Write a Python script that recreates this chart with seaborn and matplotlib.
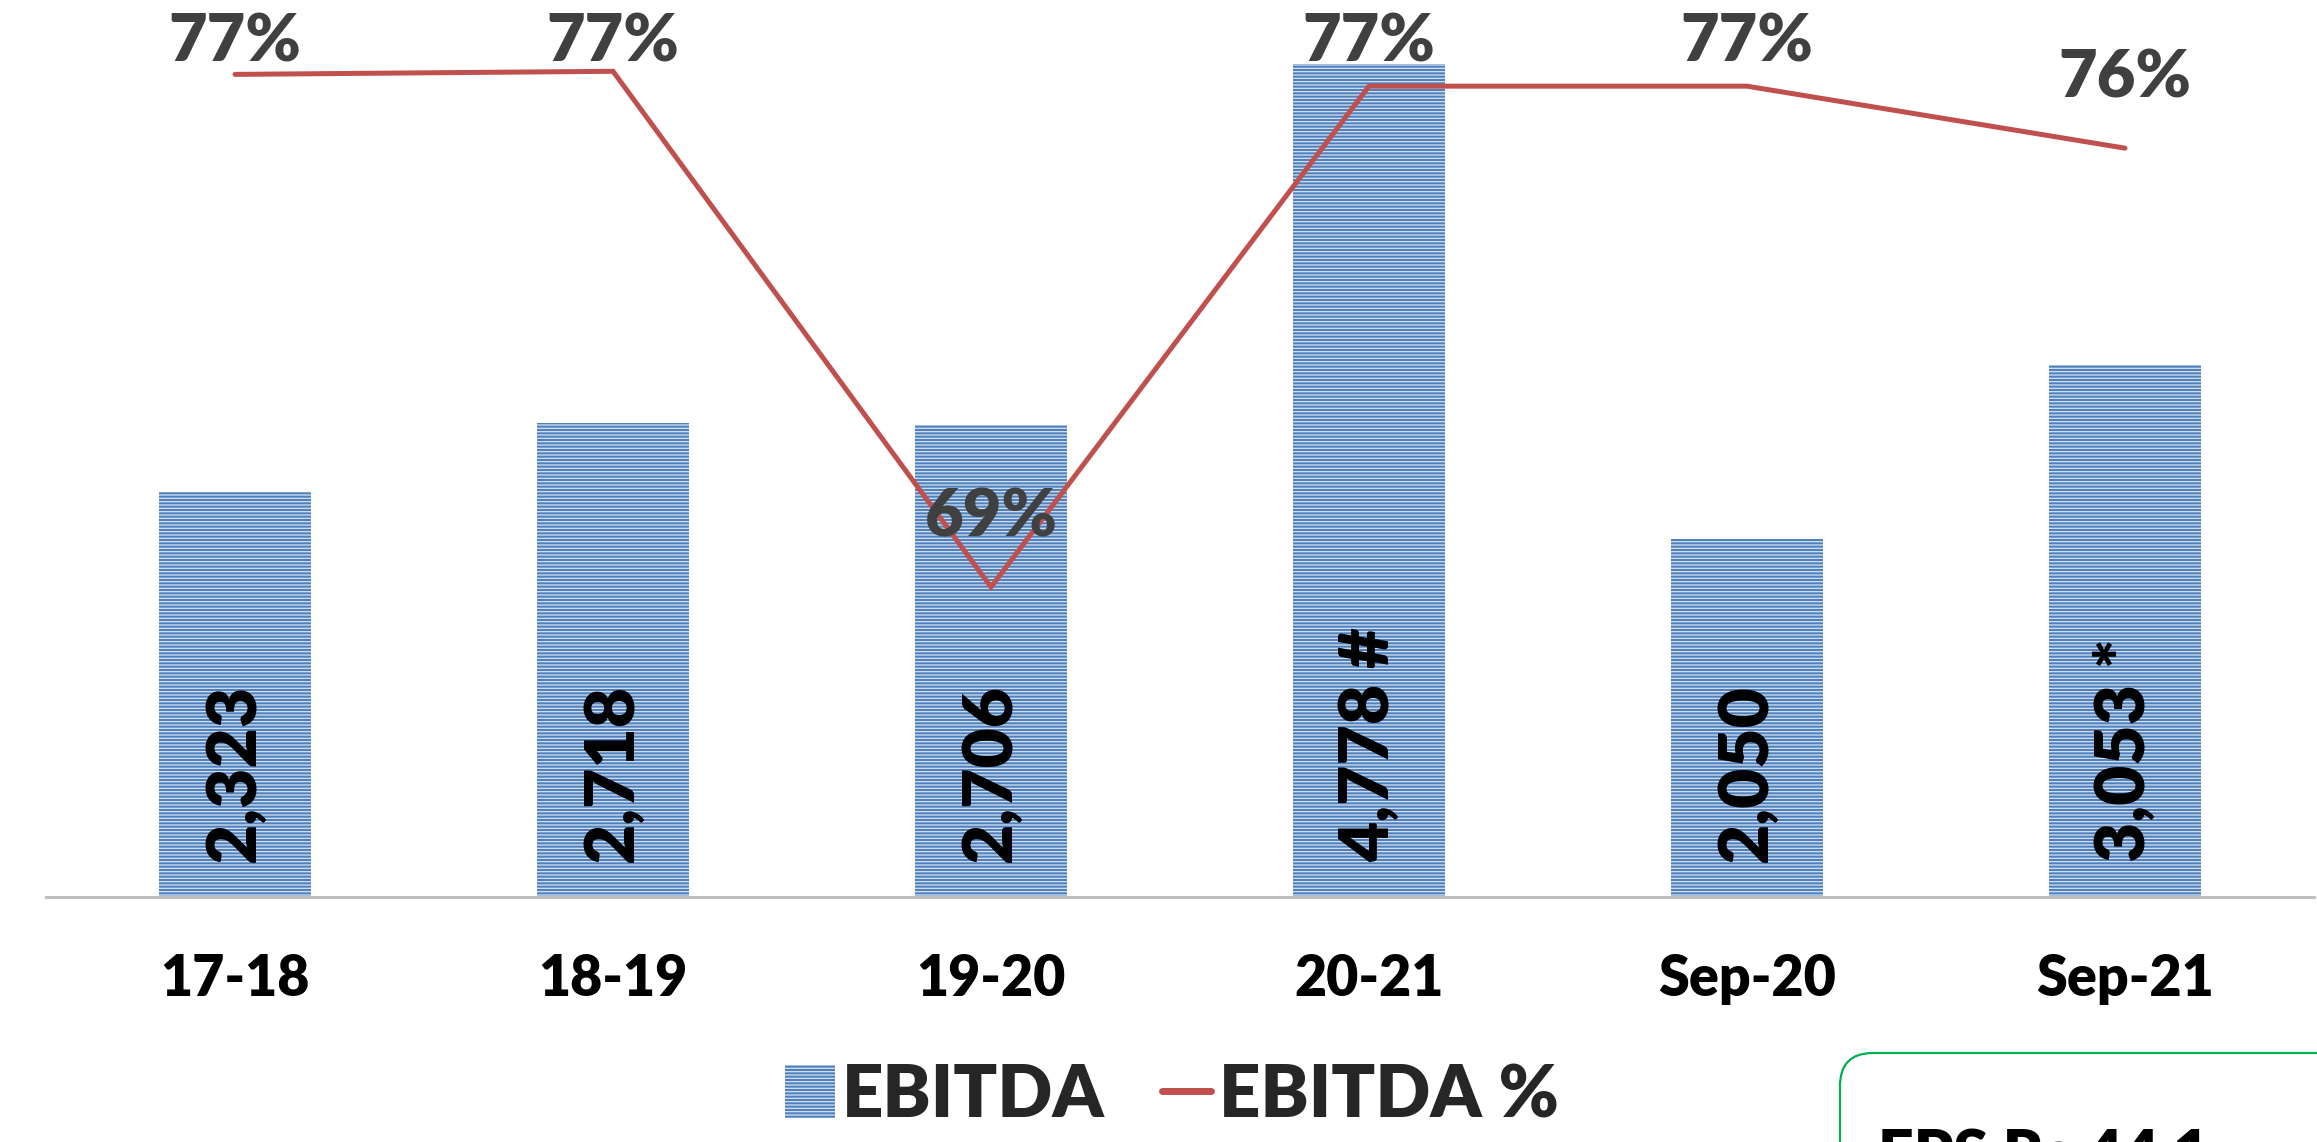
import matplotlib
matplotlib.use("Agg")
import matplotlib.pyplot as plt
import seaborn as sns
import pandas as pd
from matplotlib.patches import FancyBboxPatch
from matplotlib.transforms import IdentityTransform

# data
periods = ["17-18", "18-19", "19-20", "20-21", "Sep-20", "Sep-21"]
ebitda = [2323, 2718, 2706, 4778, 2050, 3053]
ebitda_labels = ["2,323", "2,718", "2,706", "4,778 #", "2,050", "3,053 *"]
ebitda_pct = [77.19, 77.24, 68.92, 77.0, 77.0, 76.0]
eps_text = "EPS Rs 44.1"

BAR_BLUE = "#4F81BD"
STRIPE = "#D6E1F0"
LINE_RED = "#C0504D"
LABEL_GREY = "#404040"

sns.set_theme(style="white")
plt.rcParams["font.family"] = ["Lato", "DejaVu Sans"]
plt.rcParams["hatch.linewidth"] = 0.9
W = "heavy"

fig = plt.figure(figsize=(23.17, 11.42), dpi=100)
ax = fig.add_axes([46 / 2317, 245 / 1142, 2268 / 2317, 897 / 1142])

df = pd.DataFrame({"period": periods, "ebitda": ebitda})
sns.barplot(data=df, x="period", y="ebitda", color=BAR_BLUE, width=0.4,
            saturation=1, ax=ax, label="EBITDA")
for bar in ax.patches:
    bar.set_hatch("-----")
    bar.set_edgecolor(STRIPE)
    bar.set_linewidth(0)

ax.set_ylim(0, 5143)
ax.set_xlim(-0.5, 5.5)
ax.set_xlabel("")
ax.set_ylabel("")
ax.set_yticks([])
for side in ["top", "left", "right"]:
    ax.spines[side].set_visible(False)
ax.spines["bottom"].set_color("#BFBFBF")
ax.spines["bottom"].set_linewidth(2.2)
ax.tick_params(axis="x", length=0, pad=40, labelsize=40, labelcolor="black")
for t in ax.get_xticklabels():
    t.set_fontweight(W)

# value labels inside the bars, rotated
for i, lab in enumerate(ebitda_labels):
    ax.text(i, 200, lab, rotation=90, ha="center", va="bottom",
            fontsize=50, fontweight=W, color="black")

# EBITDA % on a secondary axis
ax2 = ax.twinx()
sns.lineplot(x=list(range(len(periods))), y=ebitda_pct, color=LINE_RED,
             linewidth=3.6, ax=ax2, label="EBITDA %", sort=False)
ax2.lines[0].set_solid_capstyle("round")
ax2.lines[0].set_solid_joinstyle("miter")
ax2.set_ylim(63.92, 78.39)
ax2.set_yticks([])
ax2.axis("off")
if ax2.get_legend():
    ax2.get_legend().remove()
if ax.get_legend():
    ax.get_legend().remove()

for i, v in enumerate(ebitda_pct):
    y = min(v + 40 / 62, 77.226)
    ax2.text(i, y, f"{v:.0f}%", ha="center", va="bottom", fontsize=48,
             fontweight=W, color=LABEL_GREY)

handles = [ax.patches[0], ax2.lines[0]]
leg = fig.legend(handles, ["EBITDA", "EBITDA %"], loc="center",
                 bbox_to_anchor=(1172 / 2317, 46 / 1142), ncol=2, frameon=False,
                 fontsize=52, handlelength=0.68, handleheight=0.75,
                 handletextpad=0.1, columnspacing=0.8)
for t in leg.get_texts():
    t.set_fontweight(W)
leg.get_lines()[0].set_linewidth(5)

# cut-off EPS box in the bottom-right corner
box = FancyBboxPatch((1840, -100), 600, 189, boxstyle="round,pad=0,rounding_size=33",
                     transform=IdentityTransform(), facecolor="white",
                     edgecolor="#00B050", linewidth=1.6)
fig.patches.append(box)
fig.text(1878 / 2317, 14 / 1142, eps_text, ha="left", va="top", fontsize=45,
         fontweight=W, color="black")

fig.savefig("out.png", dpi=100)
